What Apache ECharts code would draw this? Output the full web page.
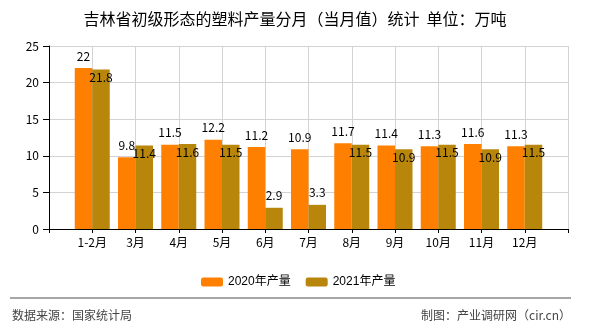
<!DOCTYPE html>
<html>
<head>
<meta charset="utf-8">
<script src="https://cdn.jsdelivr.net/npm/echarts@6/dist/echarts.min.js"></script>
<style>
html,body{margin:0;padding:0;background:#fff;}
#chart{width:590px;height:330px;}
</style>
</head>
<body>
<div id="chart"></div>
<script>
const categories = ['1-2月','3月','4月','5月','6月','7月','8月','9月','10月','11月','12月'];
const values2020 = [22, 9.8, 11.5, 12.2, 11.2, 10.9, 11.7, 11.4, 11.3, 11.6, 11.3];
const values2021 = [21.8, 11.4, 11.6, 11.5, 2.9, 3.3, 11.5, 10.9, 11.5, 10.9, 11.5];
const seriesNames = ['2020年产量', '2021年产量'];
const yTicks = [0, 5, 10, 15, 20, 25];
const titleText = '吉林省初级形态的塑料产量分月（当月值）统计  单位：万吨';
const sourceText = '数据来源：国家统计局';
const creditText = '制图：产业调研网（cir.cn）';

const FONT = '"Noto Sans CJK SC", sans-serif';
const axisCats = [''].concat(categories, ['']);
const pad = arr => [null].concat(arr, [null]);

const chart = echarts.init(document.getElementById('chart'), null, {renderer: 'canvas'});
chart.setOption({
  animation: false,
  backgroundColor: '#fff',
  textStyle: {fontFamily: FONT},
  title: {
    text: titleText,
    left: 'center',
    top: 6,
    textStyle: {fontSize: 16, fontWeight: 'normal', color: '#000', fontFamily: FONT}
  },
  legend: {
    left: 196,
    top: 271,
    itemWidth: 22,
    itemHeight: 9,
    itemGap: 15,
    textStyle: {fontSize: 12, color: '#000', fontFamily: '"Liberation Sans", "Noto Sans CJK SC", sans-serif'},
    data: seriesNames
  },
  grid: {left: 49, right: 22, top: 46, bottom: 101, containLabel: false},
  xAxis: {
    type: 'category',
    data: axisCats,
    boundaryGap: false,
    axisLine: {lineStyle: {color: '#000', width: 1}},
    axisTick: {show: true, length: 4, lineStyle: {color: '#000'}},
    axisLabel: {color: '#000', fontSize: 12, margin: 7, interval: 0, fontFamily: FONT},
    splitLine: {show: true, lineStyle: {color: '#d3d3d3', width: 1}}
  },
  yAxis: {
    type: 'value',
    min: yTicks[0],
    max: yTicks[yTicks.length - 1],
    interval: yTicks[1] - yTicks[0],
    axisLine: {show: true, lineStyle: {color: '#000', width: 1}},
    axisTick: {show: true, length: 6, lineStyle: {color: '#000'}},
    axisLabel: {color: '#000', fontSize: 12, margin: 10, fontFamily: FONT},
    splitLine: {show: true, lineStyle: {color: '#d3d3d3', width: 1}}
  },
  series: [
    {
      name: seriesNames[0],
      type: 'bar',
      data: pad(values2020),
      barWidth: 17.5,
      barGap: '0%',
      itemStyle: {color: '#FF8000'},
      label: {show: true, position: 'top', distance: 6, color: '#000', fontSize: 12, fontFamily: FONT}
    },
    {
      name: seriesNames[1],
      type: 'bar',
      data: pad(values2021).map(v => v === null ? null : (v < 5
        ? {value: v, label: {position: 'top', distance: 6}}
        : {value: v})),
      barWidth: 17.5,
      barGap: '0%',
      itemStyle: {color: '#B8860B'},
      label: {show: true, position: 'insideTop', distance: 2, color: '#000', fontSize: 12, fontFamily: FONT}
    }
  ],
  graphic: [
    {type: 'line', shape: {x1: 10, y1: 298, x2: 571, y2: 298}, style: {stroke: '#888', lineWidth: 1.5}, silent: true},
    {type: 'text', left: 12, top: 309, style: {text: sourceText, fill: '#444', fontSize: 12, fontFamily: FONT}},
    {type: 'text', right: 19, top: 309, style: {text: creditText, fill: '#444', fontSize: 12, fontFamily: FONT}}
  ]
});
</script>
</body>
</html>
